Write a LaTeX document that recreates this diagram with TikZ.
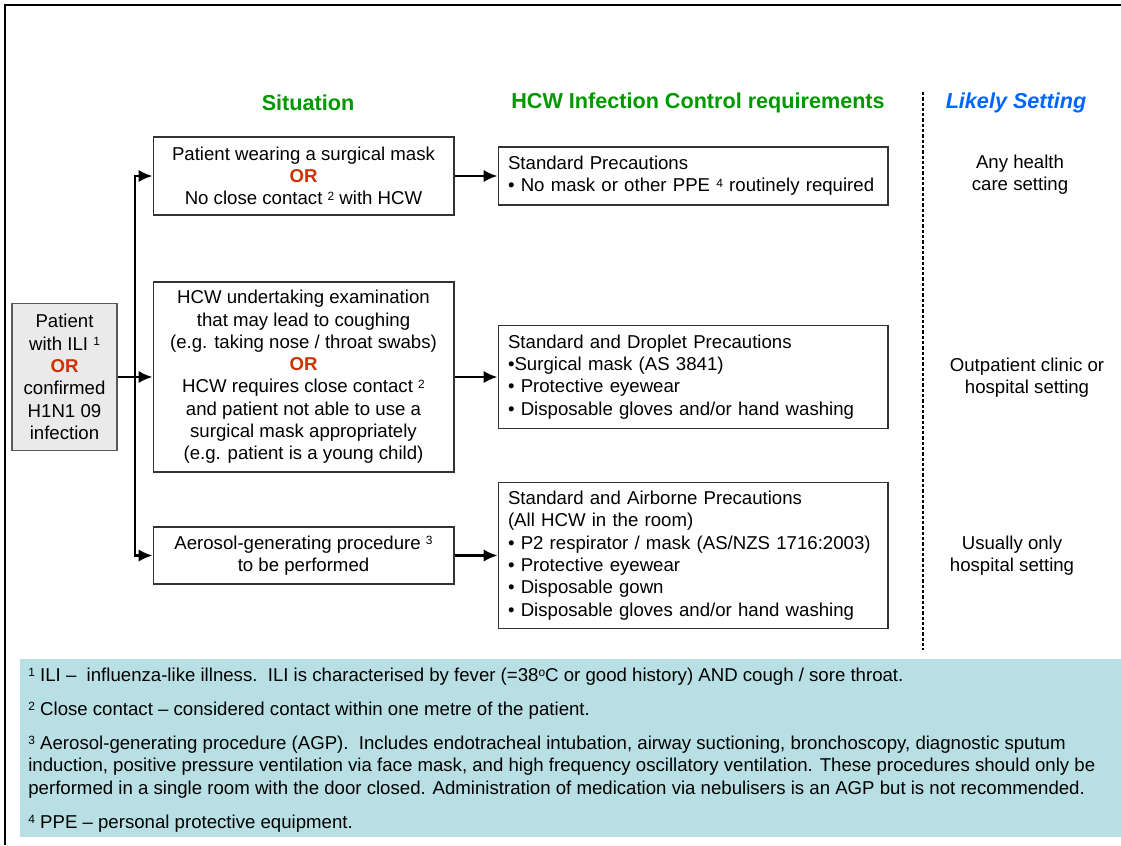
\documentclass[tikz,border=0pt]{standalone}
\usepackage{fontspec}
\setmainfont{Liberation Sans}
\usepackage{xcolor}
\usepackage{tikz}
\usetikzlibrary{positioning,arrows.meta}

\definecolor{headgreen}{RGB}{0,153,0}
\definecolor{setblue}{RGB}{0,102,255}
\definecolor{orred}{RGB}{204,51,0}
\definecolor{notefill}{RGB}{184,223,227}
\definecolor{patfill}{RGB}{234,234,234}
\newcommand{\orword}{\textcolor{orred}{\textbf{OR}}}
\newcommand{\fnmark}[1]{\raisebox{0.5ex}{\fontsize{6.8}{7}\selectfont #1}}

\begin{document}
\begin{tikzpicture}[x=0.02cm, y=-0.02cm, >={Latex[length=2.8mm,width=2.5mm]},
		every node/.style={font=\fontsize{10.6}{12.7}\selectfont},
		head/.style={font=\fontsize{12.3}{14}\selectfont\bfseries},
		patbox/.style={draw=black!65, fill=patfill, line width=0.6pt, minimum width=2.1cm, minimum height=2.94cm, align=center, inner sep=0pt},
		situbox/.style={draw=black!80, line width=0.6pt, minimum width=6.02cm, align=center, inner sep=0pt},
		reqbox/.style={draw=black!80, line width=0.6pt, text width=7.4cm, inner xsep=0.2cm, inner ysep=0pt, align=left},
		note/.style={anchor=west, inner sep=0pt, align=left},
		flow/.style={->, line width=1.4pt}]
		\useasboundingbox (0,0) rectangle (1121,845);

		% frame and footnote panel
		\draw[line width=1.1pt] (5,845) -- (5,5) -- (1121,5);
		\fill[notefill] (20,659) rectangle (1121,837);

		% column headings
		\node[head, text=headgreen] (hsit) at (308,103) {Situation};
		\node[head, text=headgreen] (hreq) at (698,103) {HCW Infection Control requirements};
		\node[head, text=setblue, font=\fontsize{12.3}{14}\selectfont\bfseries\itshape] (hset) at (1016,103) {Likely Setting};
		\draw[line width=1.1pt, dash pattern=on 0.066cm off 0.04cm] (923,92) -- (923,650);

		\node[patbox] (pat) at (64.5,377) {Patient\\with ILI \fnmark{1}\\\orword\\confirmed\\H1N1 09\\infection};

		\node[situbox, minimum height=1.56cm] (sit1) at (303.5,176) {Patient wearing a surgical mask\\\orword\\No close contact \fnmark{2} with HCW};
		\node[situbox, minimum height=3.8cm] (sit2) at (303.5,377) {HCW undertaking examination\\that may lead to coughing\\(e.g. taking nose / throat swabs)\\\orword\\HCW requires close contact \fnmark{2}\\and patient not able to use a\\surgical mask appropriately\\(e.g. patient is a young child)};
		\node[situbox, minimum height=1.14cm] (sit3) at (303.5,555.5) {Aerosol-generating procedure \fnmark{3}\\to be performed};

		\node[reqbox, minimum height=1.16cm] (req1) at (693,176) {Standard Precautions\\• No mask or other PPE \fnmark{4} routinely required};
		\node[reqbox, minimum height=2.06cm] (req2) at (693,377) {Standard and Droplet Precautions\\•Surgical mask (AS 3841)\\• Protective eyewear\\• Disposable gloves and/or hand washing};
		\node[reqbox, minimum height=2.92cm] (req3) at (693,555.5) {Standard and Airborne Precautions\\(All HCW in the room)\\• P2 respirator / mask (AS/NZS 1716:2003)\\• Protective eyewear\\• Disposable gown\\• Disposable gloves and/or hand washing};

		\node[align=center] (set1) at (1020,175) {Any health\\care setting};
		\node[align=center] (set2) at (1027,378) {Outpatient clinic or\\hospital setting};
		\node[align=center] (set3) at (1012,556) {Usually only\\hospital setting};

		\coordinate (trunk) at (135,377);
		\draw[flow] (pat) -- (sit2);
		\draw[flow] (trunk) |- (sit1);
		\draw[flow] (trunk) |- (sit3);
		\draw[flow] (sit1) -- (req1);
		\draw[flow] (sit2) -- (req2);
		\draw[flow] (sit3) -- (req3);

		% footnotes
		\node[note] (fn1) at (28,677) {\fnmark{1} ILI –\ \ influenza-like illness.\ \ ILI is characterised by fever (=38\fnmark{o}C or good history) AND cough / sore throat.};
		\node[note] (fn2) at (28,711) {\fnmark{2} Close contact – considered contact within one metre of the patient.};
		\node[note] (fn3) at (28,767) {\fnmark{3} Aerosol-generating procedure (AGP).\ \ Includes endotracheal intubation, airway suctioning, bronchoscopy, diagnostic sputum\\induction, positive pressure ventilation via face mask, and high frequency oscillatory ventilation. These procedures should only be\\performed in a single room with the door closed. Administration of medication via nebulisers is an AGP but is not recommended.};
		\node[note] (fn4) at (28,824) {\fnmark{4} PPE – personal protective equipment.};
	\end{tikzpicture}
\end{document}
